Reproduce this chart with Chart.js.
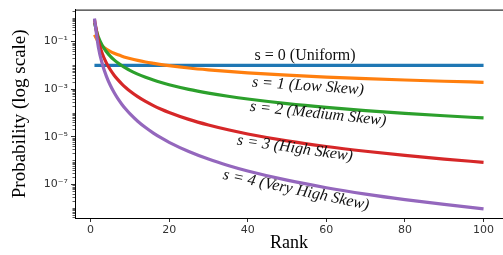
<!DOCTYPE html>
<html>
<head>
<meta charset="utf-8">
<script src="https://cdn.jsdelivr.net/npm/chart.js@4/dist/chart.umd.min.js"></script>
<style>
  html, body { margin: 0; padding: 0; background: #fff; }
  #wrap { width: 503px; height: 255px; }
</style>
</head>
<body>
<div id="wrap"><canvas id="grafica"></canvas></div>
<script>
// ranks where the curves were read
const ranks = [1, 2, 3, 4, 5, 6, 7, 8, 9, 10, 12, 14, 16, 18, 20, 25, 30, 35, 40, 50, 60, 70, 80, 90, 100];

// probabilities (log scale)
const s0 = [0.01, 0.01, 0.01, 0.01, 0.01, 0.01, 0.01, 0.01, 0.01, 0.01, 0.01, 0.01, 0.01, 0.01, 0.01,
            0.01, 0.01, 0.01, 0.01, 0.01, 0.01, 0.01, 0.01, 0.01, 0.01];
const s1 = [0.193, 0.0964, 0.0643, 0.0482, 0.0386, 0.0321, 0.0275, 0.0241, 0.0214, 0.0193, 0.0161, 0.0138,
            0.0121, 0.0107, 0.00964, 0.00771, 0.00643, 0.00551, 0.00482, 0.00386, 0.00321, 0.00275,
            0.00241, 0.00214, 0.00193];
const s2 = [0.612, 0.153, 0.068, 0.0382, 0.0245, 0.017, 0.0125, 0.00956, 0.00755, 0.00612, 0.00425, 0.00312,
            0.00239, 0.00189, 0.00153, 9.79e-4, 6.8e-4, 4.99e-4, 3.82e-4, 2.45e-4, 1.7e-4, 1.25e-4,
            9.56e-5, 7.55e-5, 6.12e-5];
const s3 = [0.832, 0.104, 0.0308, 0.013, 0.00666, 0.00385, 0.00243, 0.00162, 0.00114, 8.32e-4, 4.81e-4, 3.03e-4,
            2.03e-4, 1.43e-4, 1.04e-4, 5.32e-5, 3.08e-5, 1.94e-5, 1.3e-5, 6.66e-6, 3.85e-6, 2.43e-6,
            1.62e-6, 1.14e-6, 8.32e-7];
const s4 = [0.924, 0.0578, 0.0114, 0.00361, 0.00148, 7.13e-4, 3.85e-4, 2.26e-4, 1.41e-4, 9.24e-5, 4.46e-5, 2.41e-5,
            1.41e-5, 8.8e-6, 5.78e-6, 2.37e-6, 1.14e-6, 6.16e-7, 3.61e-7, 1.48e-7, 7.13e-8, 3.85e-8,
            2.26e-8, 1.41e-8, 9.24e-9];

const seriesNames = ['s = 0 (Uniform)', 's = 1 (Low Skew)', 's = 2 (Medium Skew)', 's = 3 (High Skew)', 's = 4 (Very High Skew)'];
const seriesColors = ['#1f77b4', '#ff7f0e', '#2ca02c', '#d62728', '#9467bd'];

const xTicks = [0, 20, 40, 60, 80, 100];
const yTicks = [1e-1, 1e-3, 1e-5, 1e-7];
const yTickLabels = ['10\u207B\u00B9', '10\u207B\u00B3', '10\u207B\u2075', '10\u207B\u2077'];

// label anchors (rank, probability) and rotation in degrees
const noteX = [54.6, 55.3, 57.9, 52.0, 52.3];
const noteY = [0.026, 1.33e-3, 9.1e-5, 3.2e-6, 5.6e-8];
const noteRot = [0, 4, 6, 8, 12];

const allSeries = [s0, s1, s2, s3, s4];

const datasets = allSeries.map((vals, i) => ({
  label: seriesNames[i],
  data: ranks.map((r, j) => ({ x: r, y: vals[j] })),
  borderColor: seriesColors[i],
  backgroundColor: seriesColors[i],
  borderWidth: 3.2,
  pointRadius: 0,
  cubicInterpolationMode: 'monotone',
  borderCapStyle: 'butt',
  order: 4 - i
}));

const extras = {
  id: 'extras',
  afterDatasetsDraw(chart) {
    const ctx = chart.ctx;
    const xs = chart.scales.x, ys = chart.scales.y;
    const a = chart.chartArea;
    ctx.save();
    // frame
    ctx.strokeStyle = '#000';
    ctx.lineWidth = 1;
    ctx.strokeRect(a.left + 0.5, a.top + 0.5, a.right - a.left, a.bottom - a.top);
    // minor ticks on log axis
    ctx.strokeStyle = '#333';
    ctx.lineWidth = 0.8;
    for (let e = -9; e <= 0; e++) {
      for (let k = 1; k <= 9; k++) {
        const v = k * Math.pow(10, e);
        if (v < ys.min || v > ys.max) continue;
        if (k === 1 && yTicks.some(t => Math.abs(Math.log10(t) - e) < 1e-9)) continue;
        const py = Math.round(ys.getPixelForValue(v)) + 0.5;
        ctx.beginPath();
        ctx.moveTo(a.left - 2.5, py);
        ctx.lineTo(a.left, py);
        ctx.stroke();
      }
    }
    // curve labels
    ctx.fillStyle = '#111';
    ctx.textAlign = 'center';
    ctx.textBaseline = 'middle';
    for (let i = 0; i < seriesNames.length; i++) {
      ctx.save();
      ctx.translate(xs.getPixelForValue(noteX[i]), ys.getPixelForValue(noteY[i]));
      ctx.rotate(noteRot[i] * Math.PI / 180);
      ctx.font = (i === 0 ? '' : 'italic ') + '16px "Liberation Serif"';
      ctx.fillText(seriesNames[i], 0, 0);
      ctx.restore();
    }
    ctx.restore();
  }
};

const graph = document.querySelector('#grafica');

new Chart(graph, {
  type: 'line',
  data: { datasets: datasets },
  options: {
    responsive: true,
    maintainAspectRatio: false,
    animation: false,
    events: [],
    layout: { padding: { top: 8, right: 0, left: 0, bottom: 0 } },
    plugins: { legend: { display: false }, tooltip: { enabled: false } },
    scales: {
      x: {
        type: 'linear',
        min: -3.95,
        max: 104.95,
        afterBuildTicks: s => { s.ticks = xTicks.map(v => ({ value: v })); },
        afterFit: s => { s.height = 37; },
        grid: { display: true, drawOnChartArea: false, tickLength: 4, color: '#333' },
        border: { display: true, color: '#000' },
        ticks: { font: { family: 'DejaVu Sans', size: 11 }, color: '#333', padding: 2, maxRotation: 0 },
        title: { display: true, text: 'Rank', font: { family: 'Liberation Serif', size: 18 }, color: '#000', padding: { top: 0, bottom: 1 } }
      },
      y: {
        type: 'logarithmic',
        min: 3.8e-9,
        max: 2.2,
        afterBuildTicks: s => { s.ticks = yTicks.map(v => ({ value: v })); },
        afterFit: s => { s.width = 75; },
        grid: { display: true, drawOnChartArea: false, tickLength: 4, color: '#333' },
        border: { display: true, color: '#000' },
        ticks: {
          font: { family: 'DejaVu Sans', size: 11 },
          color: '#333',
          padding: 3,
          callback: (v) => {
            const i = yTicks.findIndex(t => Math.abs(t - v) / t < 1e-6);
            return i >= 0 ? yTickLabels[i] : '';
          }
        },
        title: { display: true, text: 'Probability (log scale)', font: { family: 'Liberation Serif', size: 19 }, color: '#000', padding: { top: 9, bottom: 0 } }
      }
    }
  },
  plugins: [extras]
});
</script>
</body>
</html>
